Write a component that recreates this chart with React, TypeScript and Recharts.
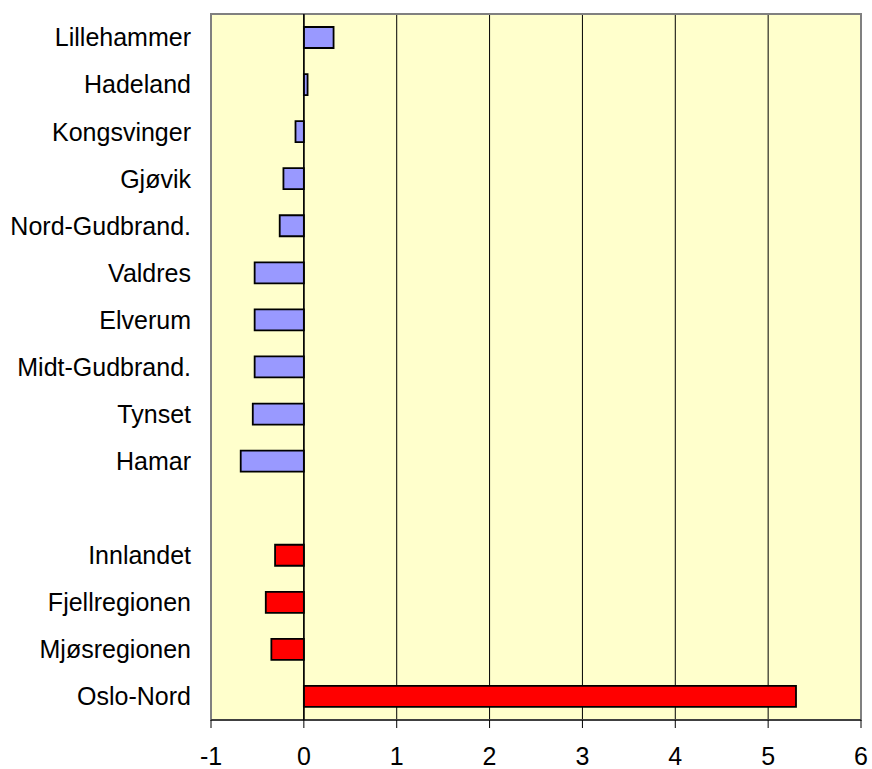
import React from "react";
import {
  BarChart,
  Bar,
  XAxis,
  YAxis,
  CartesianGrid,
  Cell,
  ReferenceLine,
  ReferenceArea,
} from "recharts";

const regionNames = [
  "Lillehammer",
  "Hadeland",
  "Kongsvinger",
  "Gjøvik",
  "Nord-Gudbrand.",
  "Valdres",
  "Elverum",
  "Midt-Gudbrand.",
  "Tynset",
  "Hamar",
];
const regionValues = [0.32, 0.04, -0.09, -0.22, -0.26, -0.53, -0.53, -0.53, -0.55, -0.68];

const aggregateNames = ["Innlandet", "Fjellregionen", "Mjøsregionen", "Oslo-Nord"];
const aggregateValues = [-0.31, -0.41, -0.35, 5.3];

const xTicks = [-1, 0, 1, 2, 3, 4, 5, 6];

const data = [
  ...regionNames.map((name, i) => ({ name, value: regionValues[i], group: "region" })),
  { name: " ", value: null as number | null, group: "blank" },
  ...aggregateNames.map((name, i) => ({ name, value: aggregateValues[i], group: "aggregate" })),
];

const FONT = "'Liberation Sans', Arial, sans-serif";

export default function App() {
  return (
    <div style={{ position: "absolute", left: 0, top: 0, background: "#fff" }}>
      <BarChart
        width={872}
        height={769}
        data={data}
        layout="vertical"
        margin={{ top: 14, right: 11, bottom: 0, left: 0 }}
        barSize={21}
      >
        <CartesianGrid
          horizontal={false}
          vertical={true}
          stroke="#000"
          strokeWidth={1}
          fill="#FFFFCC"
          fillOpacity={1}
        />
        <XAxis
          type="number"
          domain={[-1, 6]}
          ticks={xTicks}
          interval={0}
          height={49}
          axisLine={{ stroke: "#000", strokeWidth: 1 }}
          tickLine={{ stroke: "#000" }}
          tickSize={8}
          tickMargin={19}
          tick={{ fill: "#000", fontSize: 25, fontFamily: FONT }}
        />
        <YAxis
          type="category"
          dataKey="name"
          width={211}
          axisLine={false}
          tickLine={false}
          tickSize={0}
          tickMargin={20}
          interval={0}
          tick={{ fill: "#000", fontSize: 25, fontFamily: FONT }}
        />
        <ReferenceArea
          x1={-1}
          x2={6}
          fill="none"
          stroke="#808080"
          strokeWidth={2}
          ifOverflow="visible"
        />
        <ReferenceLine x={0} stroke="#000" strokeWidth={1.5} />
        <Bar dataKey="value" stroke="#000" strokeWidth={1.8} isAnimationActive={false}>
          {data.map((d, i) => (
            <Cell key={i} fill={d.group === "aggregate" ? "#FF0000" : "#9999FF"} />
          ))}
        </Bar>
      </BarChart>
    </div>
  );
}
